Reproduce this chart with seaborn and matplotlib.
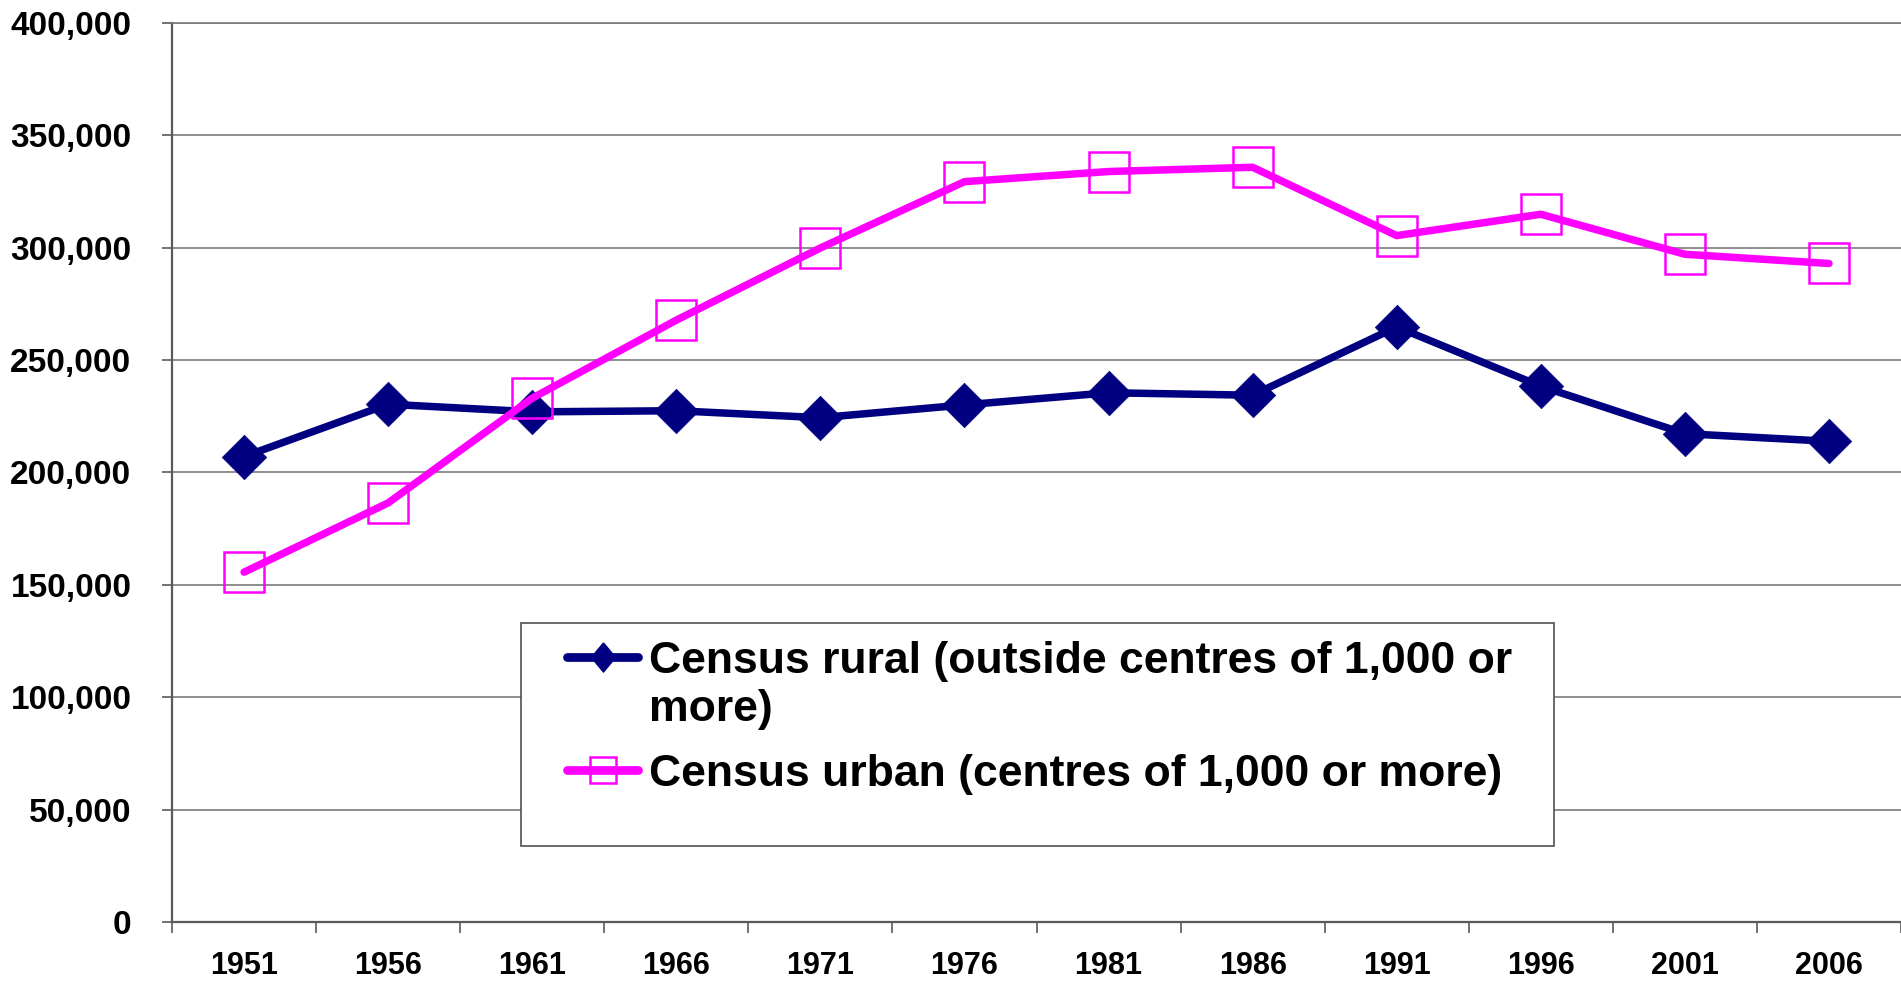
import numpy as np
import pandas as pd
import matplotlib
matplotlib.use('Agg')
import matplotlib.pyplot as plt
import seaborn as sns
from matplotlib.lines import Line2D
from matplotlib.patches import Rectangle
from matplotlib.ticker import FuncFormatter, FixedLocator

# census years and population counts
years = ['1951', '1956', '1961', '1966', '1971', '1976',
         '1981', '1986', '1991', '1996', '2001', '2006']
rural = [207000, 230300, 226900, 227400, 224300, 230000,
         235400, 234300, 264700, 238300, 217200, 213800]
urban = [155600, 186400, 233000, 267700, 299800, 329300,
         333800, 335700, 305300, 314800, 297000, 292900]

rural_label = 'Census rural (outside centres of 1,000 or more)'
urban_label = 'Census urban (centres of 1,000 or more)'

navy = '#000080'
magenta = '#FF00FF'
grid_grey = '#7a7a7a'
axis_grey = '#5a5a5a'

# diamond markers: regular in the plot, a bit taller in the legend
diamond = [(0, 1), (1, 0), (0, -1), (-1, 0), (0, 1)]
tall_diamond = [(0, 1), (0.83, 0), (0, -1), (-0.83, 0), (0, 1)]

sns.set_style('white')
plt.rcParams['font.family'] = ['Liberation Sans', 'DejaVu Sans']
plt.rcParams['font.weight'] = 'bold'
plt.rcParams['text.color'] = 'black'
plt.rcParams['xtick.color'] = axis_grey
plt.rcParams['ytick.color'] = axis_grey
plt.rcParams['xtick.labelcolor'] = 'black'
plt.rcParams['ytick.labelcolor'] = 'black'

df = pd.DataFrame({'year': years, 'rural': rural, 'urban': urban})

fig = plt.figure(figsize=(19.01, 9.83), dpi=100)
ax = fig.add_axes([0.0905, 0.0621, 0.9095, 0.9148])

sns.lineplot(data=df, x='year', y='rural', ax=ax, sort=False, color=navy,
             lw=5.4, marker=diamond, ms=32, mec=navy, mfc=navy, mew=0.5,
             zorder=3)
sns.lineplot(data=df, x='year', y='urban', ax=ax, sort=False, color=magenta,
             lw=5.4, marker='s', ms=29, mfc='none', mec=magenta, mew=1.8,
             zorder=4)

# axes limits / grid
ax.set_xlim(-0.5, len(years) - 0.5)
ax.set_ylim(0, 400000)
ax.set_yticks(np.arange(0, 400001, 50000))
ax.yaxis.set_major_formatter(FuncFormatter(lambda v, p: f'{int(v):,}'))
ax.set_axisbelow(True)
ax.grid(axis='y', color=grid_grey, lw=1.2)
ax.grid(axis='x', visible=False)

ax.set_xlabel('')
ax.set_ylabel('')

ax.spines['right'].set_visible(False)
ax.spines['top'].set_color(grid_grey)
ax.spines['top'].set_linewidth(1.2)
ax.spines['left'].set_color(axis_grey)
ax.spines['left'].set_linewidth(1.6)
ax.spines['bottom'].set_color(axis_grey)
ax.spines['bottom'].set_linewidth(1.6)

# category boundary ticks on x, labels centred
ax.xaxis.set_minor_locator(FixedLocator(np.arange(-0.5, len(years), 1.0)))
ax.tick_params(axis='x', which='major', length=0, pad=21, labelsize=22,
               bottom=True)
ax.tick_params(axis='x', which='minor', length=8, width=1.2,
               direction='out', bottom=True)
ax.tick_params(axis='y', which='major', length=7.2, width=1.2,
               direction='out', pad=22, labelsize=24, left=True)
for t in ax.get_xticklabels() + ax.get_yticklabels():
    t.set_fontweight('bold')

# legend frame (fixed-size box like the spreadsheet chart)
frame = Rectangle((0.2741, 0.1394), 0.5434, 0.2269, transform=fig.transFigure,
                  facecolor='white', edgecolor='#505050', lw=1.2,
                  zorder=5, clip_on=False)
ax.add_patch(frame)

leg_kw = dict(loc='upper left', bbox_transform=fig.transFigure,
              frameon=False, borderpad=0, borderaxespad=0,
              handlelength=1.6, handletextpad=0.25,
              prop={'size': 32, 'weight': 'bold'})

# rural entry, long label wrapped onto a second row
first, rest = rural_label.rsplit(' ', 1)
h_rural = Line2D([], [], color=navy, lw=6.3, marker=tall_diamond, ms=21,
                 mfc=navy, mec=navy)
h_blank = Line2D([], [], color='none')
leg1 = ax.legend([h_rural, h_blank], [first, rest], labelspacing=0.16,
                 bbox_to_anchor=(0.2983, 0.3479), **leg_kw)
leg1.set_zorder(6)
ax.add_artist(leg1)

h_urban = Line2D([], [], color=magenta, lw=6.3, marker='s', ms=19,
                 mfc='none', mec=magenta, mew=1.8)
leg2 = ax.legend([h_urban], [urban_label],
                 bbox_to_anchor=(0.2983, 0.2330), **leg_kw)
leg2.set_zorder(6)

fig.savefig('out.png', dpi=100)
